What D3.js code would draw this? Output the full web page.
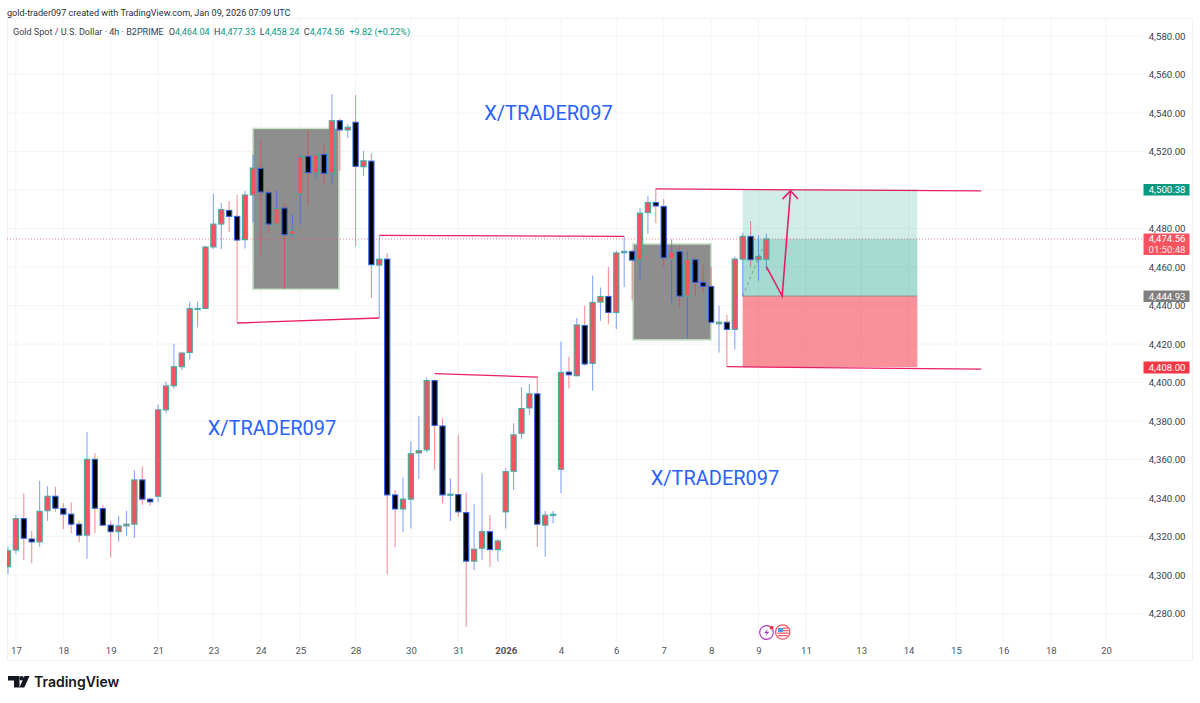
<!DOCTYPE html>
<html>
<head>
<meta charset="utf-8">
<script src="https://cdn.jsdelivr.net/npm/d3@7"></script>
<style>
  html, body { margin: 0; padding: 0; background: #fff; }
  svg { display: block; font-family: Roboto, "Liberation Sans", sans-serif; }
</style>
</head>
<body>
<div id="viz"></div>
<script>
const width = 1200, height = 703;

// candles, one per 4h bar, index = position in the arrays
const opens = [4304.3,4313,4329.3,4318.7,4317.2,4333.4,4340.9,4334.5,4331.6,4326.4,4320.7,4360.1,4334.5,4325.9,4322.5,4325.5,4326.4,4349.4,4339.4,4340.9,
  4385.8,4398.3,4408.2,4415.6,4438,4438.5,4470.4,4482.3,4489.4,4486.3,4474.2,4497.4,4511.2,4498.6,4482.3,4490.6,4476.8,4497.9,4517.5,4508.7,
  4518.5,4508.7,4536,4531.2,4535.2,4512.1,4515,4461,4464.1,4341.6,4334.3,4339.4,4363.4,4365,4401,4377.4,4341.4,4341.8,4332.4,4307.2,
  4313.9,4322.5,4313.2,4332.8,4353.9,4373.6,4386.8,4394.1,4325.9,4331.2,4354.9,4405.4,4403.5,4429.6,4409.9,4441.8,4444.7,4436.4,4467.4,4468.1,
  4463.6,4488.3,4493.5,4491.5,4464,4468,4444.9,4463.8,4452,4449.9,4430.5,4431.3,4427.6,4464.1,4475.9,4463.8,4464.04];
const highs = [4314.7,4331.2,4342.5,4322.9,4348.9,4346.1,4345.9,4337.3,4337.6,4328.2,4374.3,4363.3,4336.4,4327.9,4330.7,4333.4,4354.4,4356.3,4340,4388.4,
  4400.5,4420.1,4416,4442.1,4442.1,4471,4497.9,4493.2,4494.1,4497.4,4499.5,4518.2,4525.5,4500,4500,4493.2,4487.6,4518.2,4531.2,4518.7,
  4523.4,4549.7,4537.2,4534.3,4549.3,4520.3,4519,4476.4,4467.2,4344.2,4350.6,4369.3,4382.6,4402.6,4401.5,4381.5,4350.3,4372.8,4342.8,4336.9,
  4352.9,4331.2,4318.6,4355.5,4378.8,4397.6,4399.3,4403.2,4333.3,4333.3,4421.3,4413.5,4433.5,4439.9,4455.6,4449.4,4460,4468.5,4475.9,4469,
  4490.6,4496.9,4500.9,4495.3,4474.4,4471,4468.1,4465.2,4461.2,4460,4439.9,4435.2,4465.5,4477.8,4483.9,4476.5,4477.33];
const lows = [4300.4,4311,4307.8,4306.1,4314.7,4328.1,4332.9,4323.9,4321.7,4317,4308.5,4321.7,4325.5,4309.2,4317.3,4320.3,4319.4,4336.4,4336,4337.8,
  4384,4396.9,4406.3,4411.8,4428.6,4438,4469.3,4469.3,4478.2,4430.9,4469.6,4483.2,4466.1,4477.5,4481.8,4448.6,4475.4,4481.8,4492.2,4505.9,
  4503,4503.5,4509.9,4526.9,4470.7,4507.4,4443.9,4433.5,4300.4,4314.4,4322.2,4324.1,4349.9,4363.6,4354.6,4337.3,4328.1,4330.3,4273.1,4302.6,
  4307.8,4304.3,4307,4324.1,4344.2,4370.7,4383.1,4314.7,4309.5,4326.9,4342.5,4396.9,4403.2,4408.7,4395.7,4432.1,4430.2,4427.8,4449.6,4442.6,
  4453.8,4477.1,4482.7,4460,4441.3,4439.2,4422.9,4445.1,4446.8,4431.2,4415.6,4408.2,4417.1,4444.7,4460,4452.9,4458.24];
const closes = [4312.6,4329.3,4319.1,4317.2,4333.1,4340.9,4334.7,4331.6,4326.4,4320.7,4360.1,4334.7,4325.9,4322.5,4325.5,4326.4,4349.4,4339.4,4338,4385.8,
  4398.2,4408.2,4415.3,4438.5,4438.5,4470.4,4482.3,4489.8,4486.3,4474,4497.4,4511.4,4499,4482.3,4490.4,4476.8,4479.1,4517.3,4509,4518.3,
  4508.7,4536,4531.2,4532.6,4512.3,4515.2,4461.2,4464.1,4341.6,4334.3,4339.4,4363,4364.6,4401,4377.7,4341.6,4342,4332.8,4307.2,4313.4,
  4322.5,4313.2,4317.7,4353.7,4372.8,4386.5,4394.1,4326.4,4331.1,4331.5,4405.2,4404,4429.9,4409.6,4441.6,4444.7,4436.4,4467.3,4468.1,4463.6,
  4488,4493.5,4491.7,4464.8,4468,4444.9,4464,4452,4449.9,4431.3,4431.3,4427.6,4464.1,4475.9,4463.8,4465.5,4474.56];

// time axis: bar index of each date label
const dateBars = [1,7,13,19,26,32,37,44,51,57,63,70,77,83,89,95,101,108,114,120,126,132,139];
const dateLabels = ['17','18','19','21','23','24','25','28','30','31','2026','4','6','7','8','9','11','13','14','15','16','18','20'];
const priceTicks = d3.range(4280, 4581, 20);

const lastPrice = 4474.56, countdown = '01:50:48';
const targetPrice = 4500.38, entryPrice = 4444.93, stopPrice = 4408.00;
const positionBars = [93, 115.1];

// grey zones [bar, bar, price, price]
const zones = [[31, 41.9, 4532, 4448.4], [79.1, 89, 4472, 4422.1]];
// hand drawn lines [bar, price, bar, price]
const trendLines = [
  [29, 4430.9, 47, 4433.5],
  [47, 4476.4, 78, 4475.9],
  [54, 4404.6, 67, 4402.8],
  [82, 4500.6, 123.2, 4499.5],
  [91, 4408.2, 123.2, 4406.9]
];
const arrowBars = [96, 98, 99.05];
const arrowPrices = [4460.2, 4444.9, 4499.7];
const watermarks = [[548.5, 113], [272, 428], [715, 478]];

const up = '#f7525f', teal = '#089981', blue = '#2962ff', pink = '#e91e63';

const x = d3.scaleLinear().domain([0, 96]).range([8, 766.4]);
const y = d3.scaleLinear().domain([4280, 4580]).range([613.5, 36]);

const svg = d3.select('#viz').append('svg')
  .attr('width', width)
  .attr('height', height);

svg.append('defs').append('clipPath').attr('id', 'plot')
  .append('rect').attr('x', 7).attr('y', 19).attr('width', 1136).attr('height', 623);

// frame
svg.append('path')
  .attr('d', 'M7.5,18.5H1192.5V660.5H7.5Z')
  .attr('fill', 'none')
  .attr('stroke', '#f0f1f3');

// grid
const grid = svg.append('g').attr('stroke', '#f3f4f6');
grid.selectAll('.gx').data(dateBars).join('line')
  .attr('x1', d => x(d)).attr('x2', d => x(d))
  .attr('y1', 19).attr('y2', 642);
grid.selectAll('.gy').data(priceTicks).join('line')
  .attr('x1', 7).attr('x2', 1143)
  .attr('y1', d => y(d)).attr('y2', d => y(d));

const plot = svg.append('g').attr('clip-path', 'url(#plot)');

// position tool goes under the candles
const px0 = x(positionBars[0]), px1 = x(positionBars[1]);
plot.append('rect').attr('x', px0).attr('width', px1 - px0)
  .attr('y', y(targetPrice)).attr('height', y(entryPrice) - y(targetPrice))
  .attr('fill', teal).attr('opacity', 0.18);
plot.append('rect').attr('x', px0).attr('width', px1 - px0)
  .attr('y', y(lastPrice)).attr('height', y(entryPrice) - y(lastPrice))
  .attr('fill', teal).attr('opacity', 0.22);
plot.append('rect').attr('x', px0).attr('width', px1 - px0)
  .attr('y', y(entryPrice)).attr('height', y(stopPrice) - y(entryPrice))
  .attr('fill', '#f23645').attr('opacity', 0.55);
plot.append('line')
  .attr('x1', px0).attr('x2', px1)
  .attr('y1', y(entryPrice)).attr('y2', y(entryPrice))
  .attr('stroke', '#808080').attr('opacity', 0.7);

plot.selectAll('.zone').data(zones).join('rect')
  .attr('x', d => x(d[0]))
  .attr('y', d => y(d[2]))
  .attr('width', d => x(d[1]) - x(d[0]))
  .attr('height', d => y(d[3]) - y(d[2]))
  .attr('fill', '#8e8e8e')
  .attr('stroke', '#c9e6c8')
  .attr('stroke-width', 1.5);

// current price line
plot.append('line')
  .attr('x1', 7).attr('x2', 1143)
  .attr('y1', y(lastPrice)).attr('y2', y(lastPrice))
  .attr('stroke', up).attr('stroke-width', 1)
  .attr('stroke-dasharray', '1 2').attr('opacity', 0.7);

// candles
const bars = d3.range(opens.length);
const isUp = i => closes[i] >= opens[i];
plot.selectAll('.wick').data(bars).join('line')
  .attr('x1', i => x(i)).attr('x2', i => x(i))
  .attr('y1', i => y(highs[i])).attr('y2', i => y(lows[i]))
  .attr('stroke', i => isUp(i) ? blue : '#f23645')
  .attr('stroke-width', 1.1)
  .attr('opacity', 0.55);
plot.selectAll('.body').data(bars).join('rect')
  .attr('x', i => x(i) - 2.6)
  .attr('width', 5.2)
  .attr('y', i => y(Math.max(opens[i], closes[i])))
  .attr('height', i => Math.max(1, Math.abs(y(opens[i]) - y(closes[i]))))
  .attr('fill', i => isUp(i) ? up : '#000')
  .attr('stroke', i => isUp(i) ? '#45ad9f' : '#2f63e8')
  .attr('stroke-width', 1.1);

// drawings on top
plot.selectAll('.trend').data(trendLines).join('line')
  .attr('x1', d => x(d[0])).attr('y1', d => y(d[1]))
  .attr('x2', d => x(d[2])).attr('y2', d => y(d[3]))
  .attr('stroke', pink).attr('stroke-width', 1.3);

plot.append('line')
  .attr('x1', x(positionBars[0])).attr('y1', y(entryPrice))
  .attr('x2', x(96)).attr('y2', y(lastPrice))
  .attr('stroke', '#909090').attr('stroke-width', 1)
  .attr('stroke-dasharray', '3 3');

const arrowLine = d3.line().x(d => x(d[0])).y(d => y(d[1]));
plot.append('path')
  .attr('d', arrowLine(arrowBars.map((b, i) => [b, arrowPrices[i]])))
  .attr('fill', 'none').attr('stroke', pink).attr('stroke-width', 1.6);
const tipX = x(arrowBars[2]), tipY = y(arrowPrices[2]);
plot.append('path')
  .attr('d', `M${tipX - 8},${tipY + 8.5}L${tipX},${tipY}L${tipX + 7.5},${tipY + 8.5}`)
  .attr('fill', 'none').attr('stroke', pink).attr('stroke-width', 1.6);

// watermark text
svg.selectAll('.mark').data(watermarks).join('text')
  .attr('x', d => d[0]).attr('y', d => d[1])
  .attr('text-anchor', 'middle')
  .attr('dominant-baseline', 'central')
  .attr('font-size', 20)
  .attr('fill', blue)
  .text('X/TRADER097');

// price axis
const yAxis = d3.axisRight(y).tickValues(priceTicks).tickSize(0).tickPadding(0)
  .tickFormat(d3.format(',.2f'));
const yg = svg.append('g').attr('transform', 'translate(1185.5,0)').call(yAxis);
yg.select('.domain').remove();
yg.selectAll('text')
  .attr('text-anchor', 'end')
  .attr('font-family', 'Roboto')
  .attr('font-size', 9.6)
  .attr('fill', '#3a3e48');

// date axis
const xAxis = d3.axisBottom(x).tickValues(dateBars).tickSize(0).tickPadding(0)
  .tickFormat((d, i) => dateLabels[i]);
const xg = svg.append('g').attr('transform', 'translate(0,647)').call(xAxis);
xg.select('.domain').remove();
xg.selectAll('text')
  .attr('font-family', 'Roboto')
  .attr('font-size', 9.6)
  .attr('fill', '#50535e')
  .attr('font-weight', (d, i) => dateLabels[i] === '2026' ? 700 : 400);

// price labels
function priceTag(price, y0, y1, fill, lines) {
  svg.append('rect')
    .attr('x', 1143.5).attr('width', 46)
    .attr('y', y0).attr('height', y1 - y0)
    .attr('fill', fill);
  lines.forEach((t, i) => {
    svg.append('text')
      .attr('x', 1185.5)
      .attr('y', y(price) + (i * 11))
      .attr('dominant-baseline', 'central')
      .attr('text-anchor', 'end')
      .attr('font-size', 9.6)
      .attr('fill', '#fff')
      .attr('opacity', i ? 0.85 : 1)
      .text(t);
  });
}
const fmt = d3.format(',.2f');
priceTag(targetPrice, 184, 195.5, teal, [fmt(targetPrice)]);
priceTag(lastPrice, 233.5, 255, up, [fmt(lastPrice), countdown]);
priceTag(entryPrice, 290.5, 302, '#808080', [fmt(entryPrice)]);
priceTag(stopPrice, 361.5, 373.5, '#f23645', [fmt(stopPrice)]);

// header
svg.append('text')
  .attr('x', 7).attr('y', 16)
  .attr('font-size', 9.1)
  .attr('fill', '#2a2e39')
  .text('gold-trader097 created with TradingView.com, Jan 09, 2026 07:09 UTC');

const legend = svg.append('text')
  .attr('x', 13).attr('y', 34.5)
  .attr('font-size', 9.05)
  .attr('fill', '#3a3e48');
legend.append('tspan').text('Gold Spot / U.S. Dollar · 4h · B2PRIME');
[['O', '4,464.04'], ['H', '4,477.33'], ['L', '4,458.24'], ['C', '4,474.56']].forEach((d, i) => {
  legend.append('tspan').attr('dx', i === 0 ? 5 : 4.5).text(d[0]);
  legend.append('tspan').attr('fill', teal).text(d[1]);
});
legend.append('tspan').attr('dx', 5).attr('fill', teal).text('+9.82 (+0.22%)');

// event icons
const icons = svg.append('g');
icons.append('circle').attr('cx', 766.5).attr('cy', 632.5).attr('r', 6.8)
  .attr('fill', '#fff').attr('stroke', '#a63cc8').attr('stroke-width', 1.2);
icons.append('path').attr('d', 'M768,628.5L764,633.2H767L765.3,636.6L769.3,631.8H766.5Z')
  .attr('fill', '#a63cc8');
icons.append('circle').attr('cx', 771.7).attr('cy', 627.7).attr('r', 1.9).attr('fill', '#f23645');
icons.append('circle').attr('cx', 782.7).attr('cy', 632).attr('r', 7.2)
  .attr('fill', '#fff').attr('stroke', '#f7525f').attr('stroke-width', 1.3);
icons.append('path').attr('d', 'M778,628H783V632H778Z').attr('fill', '#4a9be8');
icons.append('path').attr('d', 'M783,628.2H788M783,630.6H788.6M777.2,633.2H788.6M778,635.6H787.6')
  .attr('stroke', '#f7525f').attr('stroke-width', 1.3).attr('fill', 'none');

// logo
const logo = svg.append('g').attr('fill', '#131722');
logo.append('path').attr('d', 'M8,676H19.5V687.5H14V680.5H8Z');
logo.append('circle').attr('cx', 21.7).attr('cy', 678.3).attr('r', 2.2);
logo.append('path').attr('d', 'M24.5,676H29.5L24.3,687.5H19.5Z');
svg.append('text')
  .attr('x', 34).attr('y', 687)
  .attr('font-family', 'Inter')
  .attr('font-size', 14)
  .attr('font-weight', 600)
  .attr('fill', '#131722')
  .text('TradingView');
</script>
</body>
</html>
